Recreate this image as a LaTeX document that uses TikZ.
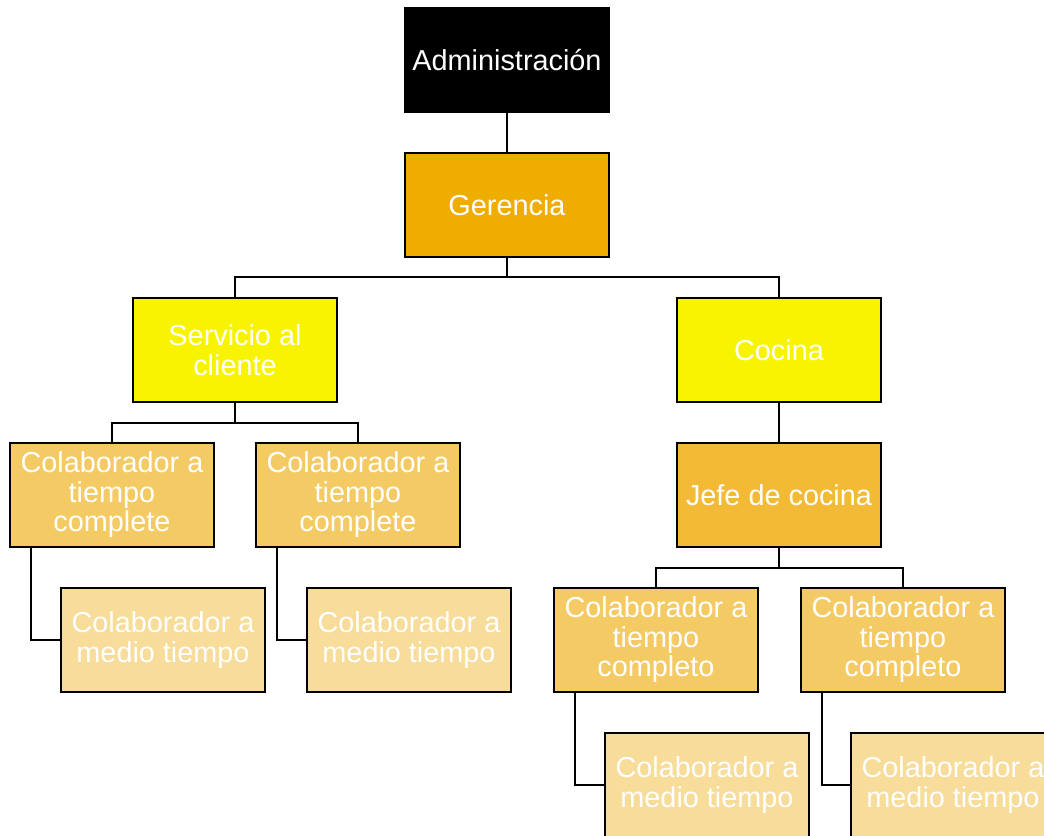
\documentclass[tikz,border=0pt]{standalone}
\usepackage{fontspec}
\setmainfont{Liberation Sans}
\definecolor{cGer}{HTML}{EFAD00}
\definecolor{cArea}{HTML}{F8F400}
\definecolor{cJefe}{HTML}{F2BA35}
\definecolor{cComp}{HTML}{F4CA64}
\definecolor{cMedio}{HTML}{F7DC9A}
\begin{document}
\begin{tikzpicture}[x=0.01cm,y=-0.01cm,line width=0.6pt,
box/.style={draw=black,minimum width=2.04cm,minimum height=1.04cm,inner sep=0pt,outer sep=0pt,
  align=center,text=white,font=\fontsize{8.2}{8.4}\selectfont}]
\useasboundingbox(0,0) rectangle (1044,836);
\node[box,fill=black](adm) at (507,60){Administración};
\node[box,fill=cGer](ger) at (507,205){Gerencia};
\node[box,fill=cArea](serv) at (235,350){Servicio al\\ cliente};
\node[box,fill=cArea](coc) at (779,350){Cocina};
\node[box,fill=cComp](tc1) at (112,495){Colaborador a\\ tiempo\\ complete};
\node[box,fill=cComp](tc2) at (358,495){Colaborador a\\ tiempo\\ complete};
\node[box,fill=cMedio](mt1) at (163,640){Colaborador a\\ medio tiempo};
\node[box,fill=cMedio](mt2) at (409,640){Colaborador a\\ medio tiempo};
\node[box,fill=cJefe](jefe) at (779,495){Jefe de cocina};
\node[box,fill=cComp](tc3) at (656,640){Colaborador a\\ tiempo\\ completo};
\node[box,fill=cComp](tc4) at (903,640){Colaborador a\\ tiempo\\ completo};
\node[box,fill=cMedio](mt3) at (707,785){Colaborador a\\ medio tiempo};
\node[box,fill=cMedio](mt4) at (953,785){Colaborador a\\ medio tiempo};
% lines
\draw(adm)--(ger);
\draw(ger.south)--++(0,20)-|(serv.north);
\draw(ger.south)++(0,20)-|(coc.north);
\draw(serv.south)--++(0,21)-|(tc1.north);
\draw(serv.south)++(0,21)-|(tc2.north);
\draw(coc)--(jefe);
\draw(jefe.south)--++(0,21)-|(tc3.north);
\draw(jefe.south)++(0,21)-|(tc4.north);
\draw(tc1.south west)++(21,0)|-(mt1.west);
\draw(tc2.south west)++(21,0)|-(mt2.west);
\draw(tc3.south west)++(21,0)|-(mt3.west);
\draw(tc4.south west)++(21,0)|-(mt4.west);
\end{tikzpicture}
\end{document}
